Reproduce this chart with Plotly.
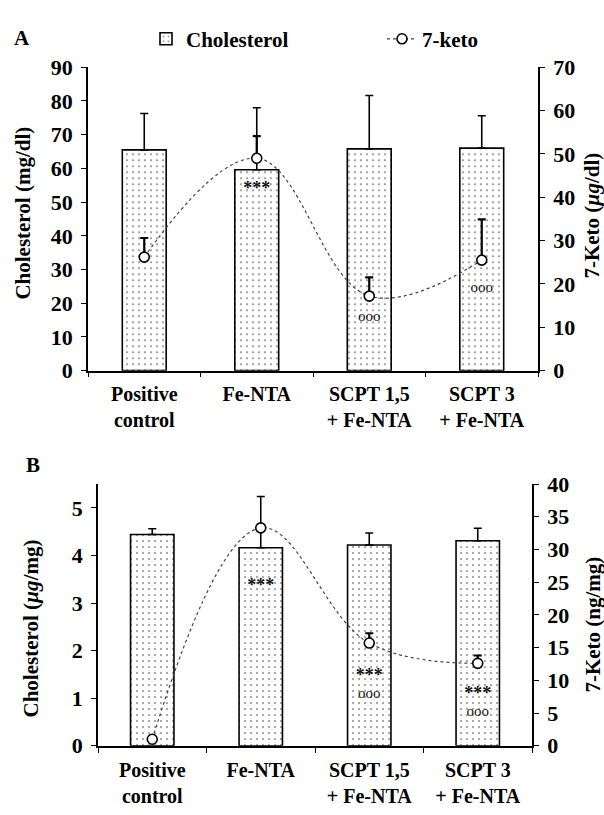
import plotly.graph_objects as go

categories = ["Positive<br>control", "Fe-NTA", "SCPT 1,5<br>+ Fe-NTA", "SCPT 3<br>+ Fe-NTA"]

# Panel A (serum)
chol_A = [65.5, 59.6, 65.8, 66.0]
chol_A_err = [10.8, 18.4, 15.8, 9.6]
keto_A = [26.2, 49.0, 17.2, 25.5]
keto_A_err = [4.4, 5.1, 4.3, 9.4]

# Panel B (tissue)
chol_B = [4.44, 4.16, 4.22, 4.31]
chol_B_err = [0.12, 1.08, 0.25, 0.26]
keto_B = [1.0, 33.3, 15.7, 12.6]
keto_B_err = [0.0, 0.0, 1.5, 1.2]

# significance marks, on the 7-keto axis: *** vs control, ooo vs Fe-NTA
stars_A_idx = [1]
stars_A_y = [41.8]
circ_A_idx = [2, 3]
circ_A_y = [12.3, 19.0]
stars_B_idx = [1, 2, 3]
stars_B_y = [24.4, 10.6, 7.9]
circ_B_idx = [2, 3]
circ_B_y = [7.8, 5.1]

FONT = "Liberation Serif"
W, H = 604, 815


def px_x(v):
    return v / W


def px_y(v):
    return 1 - v / H


fig = go.Figure()

pattern = dict(shape=".", fgcolor="#222222", bgcolor="white", size=6, solidity=0.1)
bar_line = dict(color="black", width=1.6)
line_style = dict(color="#444444", width=1.2, dash="dot", shape="spline", smoothing=1.1)
marker_style = dict(symbol="circle", size=10, color="white", line=dict(color="black", width=1.6))
star_font = dict(family=FONT, size=18, color="#111111", weight="bold")
circ_font = dict(family=FONT, size=15, color="#111111")


def add_marks(idx, ys, txt, font, xa, ya):
    fig.add_trace(go.Scatter(
        x=[categories[i] for i in idx], y=ys, xaxis=xa, yaxis=ya,
        mode="text", text=[txt] * len(idx), showlegend=False, textfont=font,
        hoverinfo="skip",
    ))


fig.add_trace(go.Bar(
    x=categories, y=chol_A, xaxis="x", yaxis="y", width=0.39,
    name="Cholesterol", legend="legend",
    marker=dict(color="white", pattern=pattern, line=bar_line),
    error_y=dict(type="data", array=chol_A_err, arrayminus=[0] * 4, symmetric=False,
                 color="black", thickness=1.6, width=4),
))
fig.add_trace(go.Scatter(
    x=categories, y=keto_A, xaxis="x", yaxis="y2", name="7-keto", legend="legend2",
    mode="lines+markers", line=line_style, marker=marker_style,
    error_y=dict(type="data", array=keto_A_err, arrayminus=[0] * 4, symmetric=False,
                 color="black", thickness=2.2, width=4),
))
add_marks(stars_A_idx, stars_A_y, "***", star_font, "x", "y2")
add_marks(circ_A_idx, circ_A_y, "ooo", circ_font, "x", "y2")

fig.add_trace(go.Bar(
    x=categories, y=chol_B, xaxis="x2", yaxis="y3", width=0.4, showlegend=False,
    marker=dict(color="white", pattern=pattern, line=bar_line),
    error_y=dict(type="data", array=chol_B_err, arrayminus=[0] * 4, symmetric=False,
                 color="black", thickness=1.6, width=4),
))
fig.add_trace(go.Scatter(
    x=categories, y=keto_B, xaxis="x2", yaxis="y4", showlegend=False,
    mode="lines+markers", line=line_style, marker=marker_style,
    error_y=dict(type="data", array=keto_B_err, arrayminus=[0] * 4, symmetric=False,
                 color="black", thickness=2.2, width=4),
))
add_marks(stars_B_idx, stars_B_y, "***", star_font, "x2", "y4")
add_marks(circ_B_idx, circ_B_y, "ooo", circ_font, "x2", "y4")

ytickf = dict(family=FONT, size=22, color="black", weight="bold")
xtickf = dict(family=FONT, size=20, color="black", weight="bold")
axis_common = dict(showline=True, linecolor="black", linewidth=1.6, ticks="outside",
                   ticklen=5, tickwidth=1.4, tickcolor="black", showgrid=False,
                   zeroline=False)
xax = dict(axis_common, tickfont=xtickf, range=[-0.5, 3.5], tickson="boundaries",
           ticklabelstandoff=5)
yax = dict(axis_common, tickfont=ytickf, ticklabelstandoff=4)

legend_font = dict(family=FONT, size=21, color="black", weight="bold")

fig.update_layout(
    width=W, height=H, margin=dict(l=0, r=0, t=0, b=0),
    paper_bgcolor="white", plot_bgcolor="white",
    font=dict(family=FONT, color="black"),
    xaxis=dict(xax, domain=[px_x(88), px_x(538)], anchor="y"),
    yaxis=dict(yax, domain=[px_y(370), px_y(57)], anchor="x", range=[0, 90], dtick=10),
    yaxis2=dict(yax, domain=[px_y(370), px_y(57)], anchor="x", overlaying="y", side="right",
                range=[0, 70], dtick=10),
    xaxis2=dict(xax, domain=[px_x(98), px_x(532)], anchor="y3"),
    yaxis3=dict(yax, domain=[px_y(757), px_y(487)], anchor="x2", range=[0, 5.5],
                tickvals=[0, 1, 2, 3, 4, 5]),
    yaxis4=dict(yax, domain=[px_y(757), px_y(487)], anchor="x2", overlaying="y3", side="right",
                range=[0, 40], dtick=5),
    legend=dict(orientation="h", x=px_x(146), y=px_y(28), xanchor="left", yanchor="middle",
                font=legend_font, bgcolor="rgba(0,0,0,0)"),
    legend2=dict(orientation="h", x=px_x(382), y=px_y(28), xanchor="left", yanchor="middle",
                 font=legend_font, bgcolor="rgba(0,0,0,0)"),
)

title_font = dict(family=FONT, size=21, color="black", weight="bold")
ann = [
    dict(text="A", x=px_x(22), y=px_y(27)),
    dict(text="B", x=px_x(33), y=px_y(467)),
    dict(text="Cholesterol (mg/dl)", x=px_x(23), y=px_y(208), textangle=-90),
    dict(text="7-Keto (<i>µg</i>/dl)", x=px_x(592), y=px_y(210), textangle=-90),
    dict(text="Cholesterol (<i>µg</i>/mg)", x=px_x(31), y=px_y(636), textangle=-90),
    dict(text="7-Keto (ng/mg)", x=px_x(593), y=px_y(632), textangle=-90),
]
for a in ann:
    fig.add_annotation(xref="paper", yref="paper", showarrow=False, font=title_font,
                       xanchor="center", yanchor="middle", **a)

fig.write_html("out.html")
